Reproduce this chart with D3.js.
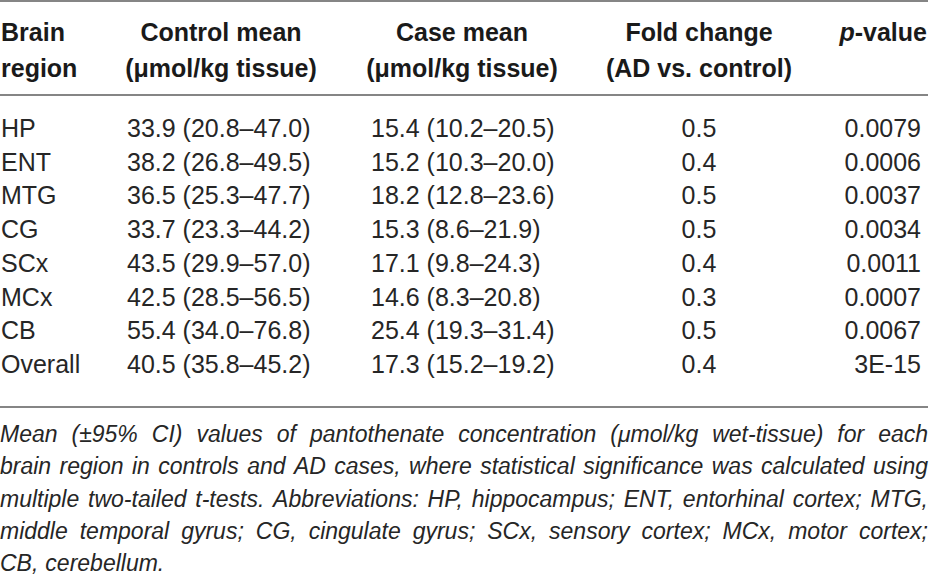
<!DOCTYPE html>
<html>
<head>
<meta charset="utf-8">
<script src="https://cdn.jsdelivr.net/npm/d3@7"></script>
<style>
  body { margin: 0; background: #fff; }
  svg { display: block; font-family: "Liberation Sans", Arial, Helvetica, sans-serif; }
</style>
</head>
<body>
<div id="chart"></div>
<script>
const regions = ["HP", "ENT", "MTG", "CG", "SCx", "MCx", "CB", "Overall"];
const controlMean = [33.9, 38.2, 36.5, 33.7, 43.5, 42.5, 55.4, 40.5];
const controlLo = [20.8, 26.8, 25.3, 23.3, 29.9, 28.5, 34.0, 35.8];
const controlHi = [47.0, 49.5, 47.7, 44.2, 57.0, 56.5, 76.8, 45.2];
const caseMean = [15.4, 15.2, 18.2, 15.3, 17.1, 14.6, 25.4, 17.3];
const caseLo = [10.2, 10.3, 12.8, 8.6, 9.8, 8.3, 19.3, 15.2];
const caseHi = [20.5, 20.0, 23.6, 21.9, 24.3, 20.8, 31.4, 19.2];
const foldChange = [0.5, 0.4, 0.5, 0.5, 0.4, 0.3, 0.5, 0.4];
const pValues = ["0.0079", "0.0006", "0.0037", "0.0034", "0.0011", "0.0007", "0.0067", "3E-15"];

const headerLine1 = ["Brain", "Control mean", "Case mean", "Fold change", "p-value"];
const headerLine2 = ["region", "(\u03bcmol/kg tissue)", "(\u03bcmol/kg tissue)", "(AD vs. control)", ""];

const captionLines = [
  "Mean (\u00b195% CI) values of pantothenate concentration (\u03bcmol/kg wet-tissue) for each",
  "brain region in controls and AD cases, where statistical significance was calculated using",
  "multiple two-tailed t-tests. Abbreviations: HP, hippocampus; ENT, entorhinal cortex; MTG,",
  "middle temporal gyrus; CG, cingulate gyrus; SCx, sensory cortex; MCx, motor cortex;",
  "CB, cerebellum."
];

const width = 950, height = 577;
const ruleRight = 928;
const textColor = "#262626";
const fmt = d3.format(".1f");

const svg = d3.select("#chart").append("svg")
  .attr("width", width)
  .attr("height", height);

// column anchors: header x / data x
const cols = [
  { hx: 1, hAnchor: "start", dx: 1, dAnchor: "start" },
  { hx: 221, hAnchor: "middle", dx: 127, dAnchor: "start" },
  { hx: 462, hAnchor: "middle", dx: 371, dAnchor: "start" },
  { hx: 699, hAnchor: "middle", dx: 699, dAnchor: "middle" },
  { hx: 927, hAnchor: "end", dx: 921, dAnchor: "end" }
];

// rules
const rules = [1, 95, 407];
svg.selectAll("line.rule")
  .data(rules)
  .enter().append("line")
  .attr("class", "rule")
  .attr("x1", 0).attr("x2", ruleRight)
  .attr("y1", d => d).attr("y2", d => d)
  .attr("stroke", "#858585")
  .attr("stroke-width", 2);

// header
const header = svg.append("g").attr("class", "header")
  .attr("font-weight", "bold")
  .attr("font-size", 25)
  .attr("fill", "#1a1a1a");

[headerLine1, headerLine2].forEach((line, li) => {
  header.selectAll(".h" + li)
    .data(line)
    .enter().append("text")
    .attr("class", "h" + li)
    .attr("x", (d, i) => cols[i].hx)
    .attr("y", li === 0 ? 41 : 77)
    .attr("text-anchor", (d, i) => cols[i].hAnchor)
    .each(function (d) {
      const t = d3.select(this);
      if (d === "p-value") {
        t.append("tspan").attr("font-style", "italic").text("p");
        t.append("tspan").text("-value");
      } else {
        t.text(d);
      }
    });
});

// body rows
const y = d3.scalePoint()
  .domain(regions)
  .range([137, 373]);

const rows = regions.map((r, i) => [
  r,
  `${fmt(controlMean[i])} (${fmt(controlLo[i])}\u2013${fmt(controlHi[i])})`,
  `${fmt(caseMean[i])} (${fmt(caseLo[i])}\u2013${fmt(caseHi[i])})`,
  fmt(foldChange[i]),
  pValues[i]
]);

const body = svg.append("g").attr("class", "body")
  .attr("font-size", 25)
  .attr("fill", textColor);

const row = body.selectAll("g.row")
  .data(rows)
  .enter().append("g")
  .attr("class", "row")
  .attr("transform", (d, i) => `translate(0,${y(regions[i])})`);

row.selectAll("text")
  .data(d => d)
  .enter().append("text")
  .attr("x", (d, i) => cols[i].dx)
  .attr("text-anchor", (d, i) => cols[i].dAnchor)
  .text(d => d);

// caption, justified
const caption = svg.append("g").attr("class", "caption")
  .attr("font-size", 23)
  .attr("font-style", "italic")
  .attr("fill", textColor);

const capY = d3.scaleLinear().domain([0, captionLines.length - 1]).range([442, 571]);

captionLines.forEach((line, li) => {
  const words = line.split(" ");
  const texts = caption.selectAll(".w" + li)
    .data(words)
    .enter().append("text")
    .attr("class", "w" + li)
    .attr("y", capY(li))
    .text(d => d);
  const widths = [];
  texts.each(function () { widths.push(this.getComputedTextLength()); });
  const total = d3.sum(widths);
  const last = li === captionLines.length - 1;
  const gap = last ? 7 : (ruleRight - total) / (words.length - 1);
  let x = 0;
  texts.attr("x", (d, i) => {
    const cur = x;
    x += widths[i] + gap;
    return cur;
  });
});
</script>
</body>
</html>
